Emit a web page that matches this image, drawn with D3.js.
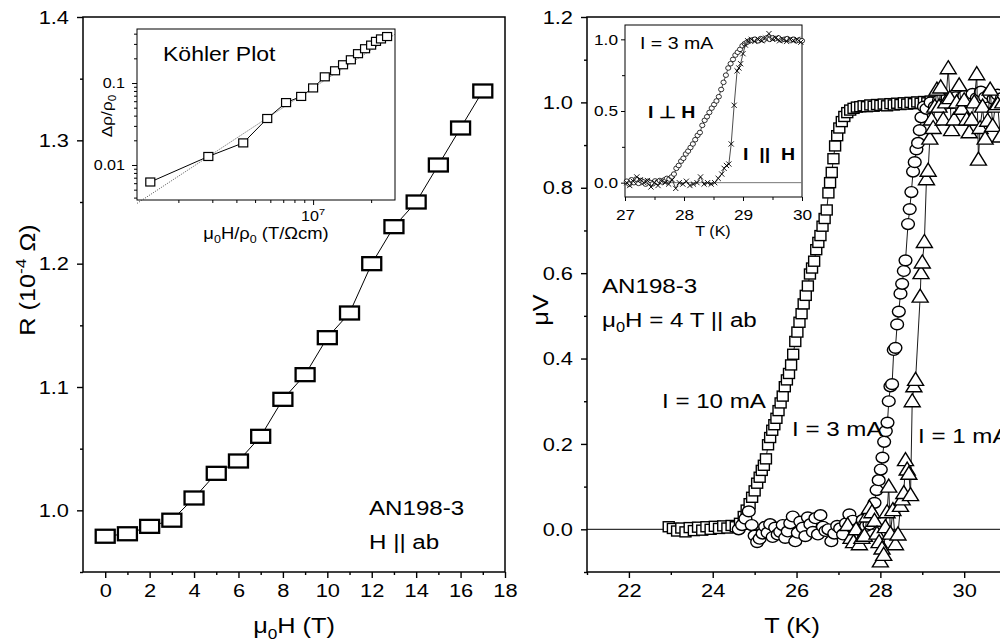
<!DOCTYPE html>
<html>
<head>
<meta charset="utf-8">
<script src="https://cdn.jsdelivr.net/npm/d3@7"></script>
<style>
  body { margin: 0; background: #fff; }
  text { font-family: "Liberation Sans", Arial, sans-serif; fill: #000; }
</style>
</head>
<body>
<div id="chart"></div>
<script>
// ---- left panel: R vs field ----
var fieldT = [0, 1, 2, 3, 4, 5, 6, 7, 8, 9, 10, 11, 12, 13, 14, 15, 16, 17];
var resistance = [0.979, 0.981, 0.987, 0.992, 1.010, 1.030, 1.040, 1.060, 1.090, 1.110,
  1.140, 1.160, 1.200, 1.230, 1.250, 1.280, 1.310, 1.340];
var leftXTicks = [0, 2, 4, 6, 8, 10, 12, 14, 16, 18];
var leftXMinor = [1, 3, 5, 7, 9, 11, 13, 15, 17];
var leftYTicks = [1.0, 1.1, 1.2, 1.3, 1.4];
var leftYMinor = [0.95, 1.05, 1.15, 1.25, 1.35];

// ---- Köhler inset ----
var kohlerX = [1.43e6, 2.86e6, 4.34e6, 5.78e6, 7.24e6, 8.67e6, 1.0e7, 1.15e7, 1.30e7,
  1.43e7, 1.57e7, 1.71e7, 1.86e7, 2.0e7, 2.12e7, 2.25e7, 2.42e7];
var kohlerY = [0.0062, 0.0127, 0.0186, 0.0369, 0.0577, 0.0686, 0.0871, 0.119, 0.141,
  0.167, 0.192, 0.228, 0.262, 0.290, 0.322, 0.345, 0.369];
var kohlerFitX = [1.22e6, 2.66e7];
var kohlerFitY = [0.0034, 0.394];
var kohlerXMinor = [2e6, 3e6, 4e6, 5e6, 6e6, 7e6, 8e6, 9e6, 2e7];
var kohlerYTicks = [0.01, 0.1];
var kohlerYMinor = [0.004, 0.005, 0.006, 0.007, 0.008, 0.009, 0.02, 0.03, 0.04, 0.05,
  0.06, 0.07, 0.08, 0.09, 0.2, 0.3, 0.4];

// ---- right panel: transitions ----
var sq10T = [22.95, 23.05, 23.15, 23.25, 23.35, 23.45, 23.55, 23.65, 23.75, 23.85, 23.95,
  24.05, 24.15, 24.25, 24.35, 24.45, 24.55, 24.65, 24.74, 24.81, 24.88, 24.94, 25.0,
  25.06, 25.12, 25.17, 25.22, 25.27, 25.32, 25.37, 25.42, 25.47, 25.52, 25.57, 25.62,
  25.67, 25.72, 25.77, 25.82, 25.87, 25.92, 25.97, 26.02, 26.07, 26.12, 26.17, 26.22,
  26.27, 26.32, 26.37, 26.42, 26.47, 26.52, 26.57, 26.62, 26.67, 26.72, 26.76, 26.8,
  26.84, 26.88, 26.92, 26.97, 27.02, 27.08, 27.14, 27.21, 27.28, 27.36, 27.44, 27.52,
  27.6, 27.68, 27.76, 27.84, 27.92, 28.0, 28.08, 28.16, 28.24, 28.32, 28.4, 28.48, 28.56,
  28.64, 28.72, 28.8, 28.88, 28.96, 29.04, 29.12, 29.2, 29.28];
var sq10V = [0.006, 0.002, -0.004, 0.003, -0.006, 0.004, -0.003, 0.005, -0.002, 0.006, 0.0,
  0.007, 0.002, 0.008, 0.003, 0.009, 0.006, 0.014, 0.03, 0.045, 0.06, 0.075, 0.09,
  0.108, 0.122, 0.138, 0.15, 0.165, 0.198, 0.215, 0.232, 0.245, 0.26, 0.278, 0.296,
  0.312, 0.334, 0.35, 0.365, 0.385, 0.41, 0.44, 0.462, 0.485, 0.505, 0.528, 0.548,
  0.57, 0.598, 0.612, 0.628, 0.655, 0.672, 0.688, 0.71, 0.728, 0.748, 0.788, 0.812,
  0.836, 0.868, 0.898, 0.922, 0.94, 0.955, 0.967, 0.976, 0.982, 0.986, 0.989, 0.99,
  0.992, 0.99, 0.994, 0.991, 0.995, 0.993, 0.996, 0.992, 0.997, 0.994, 0.998, 0.995, 0.999,
  0.996, 1.0, 0.997, 1.001, 0.998, 1.002, 0.999, 1.003, 1.0];

var circ3T = [24.62, 24.7, 24.78, 24.86, 24.93, 25.0, 25.06, 25.12, 25.19, 25.25, 25.31,
  25.37, 25.43, 25.49, 25.55, 25.61, 25.67, 25.73, 25.79, 25.85, 25.91, 25.97, 26.03,
  26.09, 26.15, 26.21, 26.27, 26.33, 26.39, 26.45, 26.51, 26.57, 26.63, 26.69, 26.76,
  26.83, 26.9, 26.97, 27.04, 27.11, 27.18, 27.26, 27.34, 27.42, 27.5, 27.58, 27.66,
  27.74, 27.8, 27.86, 27.91, 27.96, 28.01, 28.05, 28.09, 28.13, 28.17, 28.2, 28.24,
  28.28, 28.32, 28.36, 28.4, 28.44, 28.48, 28.52, 28.56, 28.6, 28.66, 28.7, 28.74,
  28.78, 28.82, 28.86, 28.9, 28.94, 28.98, 29.04, 29.1, 29.2, 29.3, 29.4, 29.5, 29.6,
  29.7, 29.8, 29.9, 30.0, 30.1, 30.2, 30.3, 30.4, 30.5, 30.6, 30.7, 30.8, 30.9];
var circ3V = [0.0, 0.01, 0.025, 0.042, 0.01, -0.015, -0.03, -0.022, -0.01, 0.006, -0.008,
  0.012, -0.018, 0.004, -0.012, -0.006, 0.01, -0.02, -0.005, 0.014, 0.03, -0.028, -0.008,
  0.018, 0.004, -0.016, 0.028, 0.012, -0.006, 0.026, -0.012, 0.033, 0.006, -0.004, 0.0,
  -0.028, -0.01, 0.008, 0.002, -0.012, 0.014, 0.035, 0.02, 0.0, -0.014, 0.022, 0.008,
  0.012, 0.028, 0.062, 0.092, 0.115, 0.14, 0.168, 0.205, 0.23, 0.25, 0.3, 0.335,
  0.34, 0.42, 0.425, 0.48, 0.51, 0.552, 0.575, 0.605, 0.63, 0.715, 0.75, 0.79,
  0.838, 0.86, 0.89, 0.905, 0.935, 0.965, 0.99, 0.985, 1.0, 0.99, 1.005, 0.995, 1.01,
  0.998, 1.012, 1.0, 1.015, 1.005, 1.02, 1.01, 1.025, 1.012, 1.02, 1.008, 1.018, 1.01];

var tri1T = [27.22, 27.3, 27.36, 27.42, 27.5, 27.56, 27.62, 27.68, 27.74, 27.8, 27.86,
  27.92, 27.97, 28.0, 28.04, 28.08, 28.12, 28.16, 28.2, 28.24, 28.3, 28.36, 28.42, 28.48,
  28.52, 28.56, 28.6, 28.64, 28.68, 28.72, 28.76, 28.8, 28.84, 28.95, 28.97, 29.0, 29.05,
  29.1, 29.14, 29.18, 29.22, 29.26, 29.3, 29.35, 29.4, 29.44, 29.5, 29.56, 29.62, 29.66,
  29.7, 29.76, 29.82, 29.88, 29.94, 30.0, 30.06, 30.12, 30.18, 30.24, 30.3, 30.34, 30.38,
  30.44, 30.5, 30.56, 30.62, 30.68, 30.74, 30.8, 30.86, 30.92];
var tri1V = [0.01, -0.02, -0.03, 0.0, -0.035, -0.02, -0.015, 0.03, 0.05, 0.04, 0.02,
  -0.01, -0.03, -0.075, -0.045, -0.06, 0.005, 0.04, 0.1, -0.01, 0.045, -0.035, -0.012, 0.055,
  0.07, 0.085, 0.162, 0.14, 0.13, 0.08, 0.3, 0.335, 0.35, 0.545, 0.6, 0.625, 0.673,
  0.82, 0.84, 0.915, 0.96, 0.94, 0.99, 1.03, 0.99, 1.035, 0.96, 1.0, 1.08, 1.01,
  0.935, 0.96, 1.0, 1.04, 0.985, 1.005, 0.96, 0.93, 0.96, 1.0, 1.066, 0.866, 0.94,
  0.99, 0.915, 0.957, 1.03, 0.945, 0.99, 0.996, 0.92, 1.0];

var rightXTicks = [22, 24, 26, 28, 30];
var rightXMinor = [21, 23, 25, 27, 29, 31];
var rightYTicks = [0.0, 0.2, 0.4, 0.6, 0.8, 1.0, 1.2];
var rightYMinor = [-0.1, 0.1, 0.3, 0.5, 0.7, 0.9, 1.1];

// ---- right inset: I = 3 mA, two orientations ----
var perpT = [27.03, 27.07, 27.11, 27.15, 27.19, 27.23, 27.27, 27.31, 27.35, 27.39, 27.43,
  27.47, 27.51, 27.55, 27.59, 27.63, 27.67, 27.71, 27.75, 27.79, 27.83, 27.87, 27.91,
  27.95, 27.99, 28.03, 28.07, 28.11, 28.15, 28.19, 28.23, 28.27, 28.31, 28.35, 28.39,
  28.43, 28.47, 28.51, 28.55, 28.59, 28.63, 28.67, 28.71, 28.75, 28.79, 28.83, 28.87,
  28.91, 28.95, 28.99, 29.03, 29.07, 29.11, 29.15, 29.2, 29.25, 29.3, 29.35, 29.4, 29.45,
  29.5, 29.55, 29.6, 29.65, 29.7, 29.75, 29.8, 29.85, 29.9, 29.95, 30.0];
var perpV = [0.01, -0.01, 0.02, 0.0, 0.025, -0.005, 0.015, 0.005, -0.01, 0.01, 0.0,
  -0.008, 0.012, 0.003, 0.015, 0.005, 0.02, 0.03, 0.025, 0.04, 0.06, 0.1, 0.12,
  0.15, 0.17, 0.2, 0.22, 0.245, 0.27, 0.3, 0.33, 0.35, 0.4, 0.435, 0.46,
  0.49, 0.52, 0.545, 0.57, 0.6, 0.65, 0.7, 0.75, 0.8, 0.83, 0.86, 0.89,
  0.91, 0.93, 0.955, 0.97, 0.98, 0.99, 0.995, 1.0, 0.99, 1.005, 0.995, 1.01, 1.0,
  1.01, 1.005, 1.01, 0.995, 1.0, 1.005, 0.995, 1.0, 0.99, 0.995, 0.99];
var parT = [27.03, 27.08, 27.14, 27.2, 27.26, 27.32, 27.38, 27.44, 27.5, 27.56, 27.62,
  27.68, 27.74, 27.8, 27.86, 27.92, 27.98, 28.04, 28.1, 28.16, 28.22, 28.28, 28.34, 28.4,
  28.46, 28.52, 28.58, 28.64, 28.68, 28.72, 28.76, 28.8, 28.85, 28.9, 28.93, 28.96, 29.0,
  29.04, 29.08, 29.14, 29.2, 29.26, 29.32, 29.38, 29.44, 29.5, 29.56, 29.62, 29.68, 29.74,
  29.8, 29.86, 29.92, 29.98];
var parV = [0.0, -0.02, 0.01, 0.04, 0.02, 0.0, 0.015, -0.03, 0.0, -0.02, 0.01,
  0.0, -0.01, 0.02, -0.04, 0.0, -0.01, 0.01, -0.02, -0.01, 0.0, 0.04, -0.01, 0.0,
  -0.01, 0.0, 0.03, 0.06, 0.1, 0.12, 0.13, 0.27, 0.54, 0.78, 0.8, 0.83, 0.9,
  0.96, 0.99, 1.0, 0.985, 1.0, 0.99, 1.01, 1.04, 1.0, 1.01, 0.99, 1.0, 0.985,
  1.0, 0.99, 1.0, 0.98];
var insetXTicks = [27, 28, 29, 30];
var insetXMinor = [27.5, 28.5, 29.5];
var insetYTicks = [0.0, 0.5, 1.0];
var insetYMinor = [0.25, 0.75];

var SX = 1.15; // glyphs in the figure are slightly wide

var svg = d3.select("#chart").append("svg")
  .attr("width", 1000)
  .attr("height", 642);

// text with sub/superscripts: parts are strings or [string, "sub"|"sup"]
function addText(parent, x, y, parts, size, o) {
  o = o || {};
  var t = parent.append("text")
    .attr("transform", `translate(${x},${y}) rotate(${o.rot || 0}) scale(${SX},1)`)
    .attr("font-size", size)
    .attr("text-anchor", o.anchor || "start")
    .attr("font-weight", o.bold ? "bold" : null)
    .style("white-space", "pre");
  var shift = 0;
  parts.forEach(function(p) {
    var s = typeof p === "string" ? p : p[0];
    var k = typeof p === "string" ? "" : p[1];
    var target = k === "sub" ? 0.25 : k === "sup" ? -0.42 : 0;
    t.append("tspan")
      .attr("dy", (target - shift) * size)
      .attr("font-size", k ? size * 0.68 : size)
      .text(s);
    shift = target;
  });
  return t;
}

function styleAxis(g, size, sw) {
  g.attr("font-family", null).attr("font-size", null);
  g.select(".domain").remove();
  g.selectAll("line").attr("stroke", "#000").attr("stroke-width", sw);
  g.selectAll("text")
    .attr("font-size", size)
    .attr("fill", "#000")
    .attr("x", function() { return (+this.getAttribute("x") || 0) / SX; })
    .attr("transform", `scale(${SX},1)`);
}

function axisPair(parent, axisFn, scale, major, minor, pos, o) {
  var tr = o.bottom ? `translate(0,${pos})` : `translate(${pos},0)`;
  if (minor) {
    parent.append("g").attr("transform", tr)
      .call(axisFn(scale).tickValues(minor).tickSize(o.minor).tickFormat(""))
      .call(styleAxis, o.font, o.sw);
  }
  parent.append("g").attr("transform", tr)
    .call(axisFn(scale).tickValues(major).tickSize(o.major).tickPadding(o.pad)
      .tickFormat(o.format || ""))
    .call(styleAxis, o.font, o.sw);
}

// ================= LEFT PANEL =================
var xL = d3.scaleLinear().domain([-1, 18]).range([83, 505]);
var yL = d3.scaleLinear().domain([0.95, 1.4]).range([572, 17]);

axisPair(svg, d3.axisBottom, xL, leftXTicks, leftXMinor, 572,
  {bottom: true, minor: 3, major: 6, pad: 6, font: 19, sw: 1.4, format: d3.format("d")});
axisPair(svg, d3.axisLeft, yL, leftYTicks, leftYMinor, 83,
  {minor: 3, major: 6, pad: 8, font: 19, sw: 1.4, format: d3.format(".1f")});

svg.append("rect")
  .attr("x", xL(-1)).attr("y", yL(1.4))
  .attr("width", xL(18) - xL(-1)).attr("height", yL(0.95) - yL(1.4))
  .attr("fill", "none").attr("stroke", "#000").attr("stroke-width", 1.5);

var leftData = d3.zip(fieldT, resistance);
svg.append("path")
  .datum(leftData)
  .attr("d", d3.line().x(d => xL(d[0])).y(d => yL(d[1])))
  .attr("fill", "none").attr("stroke", "#000").attr("stroke-width", 1);
svg.append("g").selectAll("rect")
  .data(leftData)
  .enter().append("rect")
  .attr("x", d => xL(d[0]) - 9.5)
  .attr("y", d => yL(d[1]) - 6.5)
  .attr("width", 19).attr("height", 13)
  .attr("fill", "#fff").attr("stroke", "#000").attr("stroke-width", 2.3);

addText(svg, 369, 515, ["AN198-3"], 21);
addText(svg, 369, 549, ["H || ab"], 21);
addText(svg, 294, 633, ["\u03BC", ["0", "sub"], "H (T)"], 22, {anchor: "middle"});
addText(svg, 35, 280, ["R (10", ["-4", "sup"], " \u03A9)"], 22, {anchor: "middle", rot: -90});

// ---- Köhler inset ----
var xK = d3.scaleLog().domain([1.22e6, 2.66e7]).range([137, 395]);
var yK = d3.scaleLog().domain([0.00374, 0.456]).range([200, 29]);

svg.append("rect")
  .attr("x", 137).attr("y", 29).attr("width", 258).attr("height", 171)
  .attr("fill", "#fff").attr("stroke", "#000").attr("stroke-width", 1);

axisPair(svg, d3.axisBottom, xK, [1e7], kohlerXMinor, 200,
  {bottom: true, minor: 3, major: 5, pad: 6, font: 13, sw: 1});
axisPair(svg, d3.axisLeft, yK, kohlerYTicks, kohlerYMinor, 137,
  {minor: 3, major: 5, pad: 7, font: 14, sw: 1, format: d => String(d)});

svg.append("path")
  .datum(d3.zip(kohlerFitX, kohlerFitY))
  .attr("d", d3.line().x(d => xK(d[0])).y(d => yK(d[1])))
  .attr("fill", "none").attr("stroke", "#444").attr("stroke-width", 0.8)
  .attr("stroke-dasharray", "1.2,1.2");

var kohlerData = d3.zip(kohlerX, kohlerY);
svg.append("path")
  .datum(kohlerData)
  .attr("d", d3.line().x(d => xK(d[0])).y(d => yK(d[1])))
  .attr("fill", "none").attr("stroke", "#000").attr("stroke-width", 1);
svg.append("g").selectAll("rect")
  .data(kohlerData)
  .enter().append("rect")
  .attr("x", d => xK(d[0]) - 4.5)
  .attr("y", d => yK(d[1]) - 4)
  .attr("width", 9).attr("height", 8)
  .attr("fill", "#fff").attr("stroke", "#000").attr("stroke-width", 1.2);

addText(svg, 163, 61, ["K\u00F6hler Plot"], 20);
addText(svg, xK(1e7), 221, ["10", ["7", "sup"]], 14, {anchor: "middle"});
addText(svg, 266, 239, ["\u03BC", ["0", "sub"], "H/\u03C1", ["0", "sub"], " (T/\u03A9cm)"], 16, {anchor: "middle"});
addText(svg, 112, 116, ["\u0394\u03C1/\u03C1", ["0", "sub"]], 15, {anchor: "middle", rot: -90});

// ================= RIGHT PANEL =================
var xR = d3.scaleLinear().domain([21, 32]).range([587, 1048]);
var yR = d3.scaleLinear().domain([-0.1, 1.2]).range([572, 17]);

axisPair(svg, d3.axisBottom, xR, rightXTicks, rightXMinor, 572,
  {bottom: true, minor: 3, major: 6, pad: 6, font: 19, sw: 1.4, format: d3.format("d")});
axisPair(svg, d3.axisLeft, yR, rightYTicks, rightYMinor, 587,
  {minor: 3, major: 6, pad: 8, font: 19, sw: 1.4, format: d3.format(".1f")});

svg.append("rect")
  .attr("x", xR(21)).attr("y", yR(1.2))
  .attr("width", xR(32) - xR(21)).attr("height", yR(-0.1) - yR(1.2))
  .attr("fill", "none").attr("stroke", "#000").attr("stroke-width", 1.5);

svg.append("line")
  .attr("x1", xR(21)).attr("x2", xR(32))
  .attr("y1", yR(0)).attr("y2", yR(0))
  .attr("stroke", "#000").attr("stroke-width", 1);

var lineR = d3.line().x(d => xR(d[0])).y(d => yR(d[1]));

function series(data, shape) {
  svg.append("path").datum(data).attr("d", lineR)
    .attr("fill", "none").attr("stroke", "#000").attr("stroke-width", 0.9);
  var g = svg.append("g");
  var sel = g.selectAll("x").data(data).enter();
  if (shape === "square") {
    sel.append("rect")
      .attr("x", d => xR(d[0]) - 5.5).attr("y", d => yR(d[1]) - 5)
      .attr("width", 11).attr("height", 10)
      .attr("fill", "#fff").attr("stroke", "#000").attr("stroke-width", 1.4);
  } else if (shape === "circle") {
    sel.append("ellipse")
      .attr("cx", d => xR(d[0])).attr("cy", d => yR(d[1]))
      .attr("rx", 6.4).attr("ry", 5.4)
      .attr("fill", "#fff").attr("stroke", "#000").attr("stroke-width", 1.4);
  } else {
    sel.append("path")
      .attr("transform", d => `translate(${xR(d[0])},${yR(d[1])})`)
      .attr("d", "M0,-7.5L8,5.5L-8,5.5Z")
      .attr("fill", "#fff").attr("stroke", "#000").attr("stroke-width", 1.4);
  }
}
series(d3.zip(sq10T, sq10V), "square");
series(d3.zip(circ3T, circ3V), "circle");
series(d3.zip(tri1T, tri1V), "triangle");

addText(svg, 602, 293, ["AN198-3"], 21);
addText(svg, 602, 327, ["\u03BC", ["0", "sub"], "H = 4 T || ab"], 21);
addText(svg, 662, 408, ["I = 10 mA"], 21);
addText(svg, 792, 436, ["I = 3 mA"], 21);
addText(svg, 918, 443, ["I = 1 mA"], 21);
addText(svg, 792, 633, ["T (K)"], 22, {anchor: "middle"});
addText(svg, 548, 310, ["\u03BCV"], 22, {anchor: "middle", rot: -90});

// ---- right inset ----
var xI = d3.scaleLinear().domain([27, 30]).range([625, 802]);
var yI = d3.scaleLinear().domain([-0.1, 1.1]).range([197, 25]);

svg.append("rect")
  .attr("x", 625).attr("y", 25).attr("width", 177).attr("height", 172)
  .attr("fill", "#fff").attr("stroke", "#000").attr("stroke-width", 1);

axisPair(svg, d3.axisBottom, xI, insetXTicks, insetXMinor, 197,
  {bottom: true, minor: 3, major: 4, pad: 8, font: 15, sw: 1, format: d3.format("d")});
axisPair(svg, d3.axisLeft, yI, insetYTicks, insetYMinor, 625,
  {minor: 3, major: 4, pad: 3, font: 15, sw: 1, format: d3.format(".1f")});

svg.append("line")
  .attr("x1", xI(27)).attr("x2", xI(30))
  .attr("y1", yI(0)).attr("y2", yI(0))
  .attr("stroke", "#777").attr("stroke-width", 1);

var lineI = d3.line().x(d => xI(d[0])).y(d => yI(d[1]));
var perpData = d3.zip(perpT, perpV);
var parData = d3.zip(parT, parV);

svg.append("path").datum(perpData).attr("d", lineI)
  .attr("fill", "none").attr("stroke", "#000").attr("stroke-width", 0.7);
svg.append("path").datum(parData).attr("d", lineI)
  .attr("fill", "none").attr("stroke", "#000").attr("stroke-width", 0.7);

svg.append("g").selectAll("ellipse")
  .data(perpData)
  .enter().append("ellipse")
  .attr("cx", d => xI(d[0])).attr("cy", d => yI(d[1]))
  .attr("rx", 2.6).attr("ry", 2.3)
  .attr("fill", "#fff").attr("stroke", "#000").attr("stroke-width", 0.8);
svg.append("g").selectAll("path")
  .data(parData)
  .enter().append("path")
  .attr("transform", d => `translate(${xI(d[0])},${yI(d[1])})`)
  .attr("d", "M-2.6,-2.6L2.6,2.6M-2.6,2.6L2.6,-2.6")
  .attr("stroke", "#000").attr("stroke-width", 0.9);

addText(svg, 640, 49, ["I = 3 mA"], 17);
addText(svg, 648, 118, ["I \u22A5 H"], 17, {bold: true});
addText(svg, 743, 160, ["I \u00A0||\u00A0 H"], 17, {bold: true});
addText(svg, 713, 236, ["T (K)"], 14, {anchor: "middle"});
</script>
</body>
</html>
